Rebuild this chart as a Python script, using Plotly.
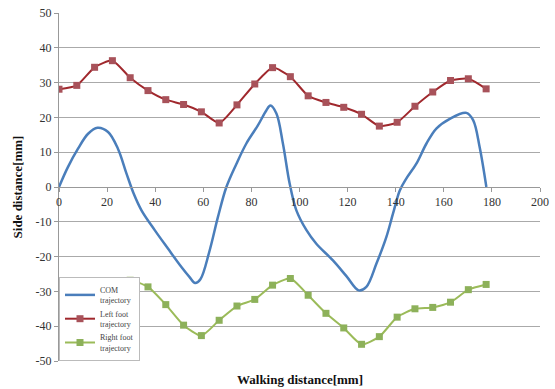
import plotly.graph_objects as go

# Walking distance [mm] sample positions for the foot trajectories
foot_x = [0, 7.4, 14.8, 22.2, 29.6, 37.0, 44.4, 51.8, 59.2, 66.6, 74.0, 81.4,
          88.8, 96.2, 103.6, 111.0, 118.4, 125.8, 133.2, 140.6, 148.0, 155.4,
          162.8, 170.2, 177.6]
left_foot = [28.1, 29.2, 34.4, 36.3, 31.4, 27.7, 25.1, 23.7, 21.6, 18.4, 23.6, 29.6,
             34.3, 31.7, 26.2, 24.3, 22.9, 20.9, 17.5, 18.6, 23.2, 27.3, 30.6, 31.1, 28.2]
right_foot = [-28.0, -28.5, -28.5, -28.0, -26.8, -28.7, -33.8, -39.7, -42.7, -38.3,
              -34.2, -32.3, -28.2, -26.3, -31.1, -36.3, -40.5, -45.2, -43.0, -37.4,
              -35.0, -34.6, -33.1, -29.5, -28.0]

# Centre-of-mass lateral trajectory
com_x = [0, 3.7, 7.9, 12.1, 16.0, 20.4, 24.5, 28.0, 31.0, 34.3, 39.8, 45.3, 50.9,
         54.3, 56.6, 58.8, 62.5, 66.1, 69.6, 73.8, 77.9, 82.7, 86.2, 87.9, 90.4,
         93.1, 95.9, 98.7, 102.9, 107.0, 113.9, 119.5, 124.6, 127.8, 132.0, 136.1,
         138.9, 141.7, 144.4, 148.6, 152.8, 156.9, 162.5, 169.4, 172.2, 174.9, 177.7]
com_y = [0, 5.7, 11.0, 15.3, 17.0, 15.8, 11.0, 4.0, -1.8, -6.7, -12.4, -17.7, -23.0,
         -25.9, -27.6, -26.5, -18.6, -8.6, 0, 6.7, 12.5, 17.7, 22.0, 23.4, 21.1,
         12.5, 1.0, -6.7, -12.4, -16.3, -21.1, -25.6, -29.7, -28.7, -22.0, -14.4,
         -7.6, -1.0, 2.4, 6.7, 12.5, 16.8, 19.6, 21.3, 19.2, 11.5, 0]

x_ticks = [0, 20, 40, 60, 80, 100, 120, 140, 160, 180, 200]
y_ticks = [50, 40, 30, 20, 10, 0, -10, -20, -30, -40, -50]

SERIF = "Liberation Serif, Times New Roman, serif"

fig = go.Figure()
fig.add_trace(go.Scatter(
    x=com_x, y=com_y, mode="lines", name="COM<br>trajectory",
    line=dict(color="#4A7EBB", width=2.5, shape="spline", smoothing=1.0)))
fig.add_trace(go.Scatter(
    x=foot_x, y=left_foot, mode="lines+markers", name="Left foot<br>trajectory",
    line=dict(color="#A0282D", width=2, shape="spline", smoothing=0.6),
    marker=dict(symbol="square", size=7, color="#A8525A")))
fig.add_trace(go.Scatter(
    x=foot_x, y=right_foot, mode="lines+markers", name="Right foot<br>trajectory",
    line=dict(color="#9BBB59", width=2, shape="spline", smoothing=0.6),
    marker=dict(symbol="square", size=7, color="#8DB15A")))

fig.update_layout(
    width=555, height=389,
    margin=dict(l=59, r=15, t=13, b=28, autoexpand=False),
    paper_bgcolor="white", plot_bgcolor="white",
    font=dict(family=SERIF, color="#333333", size=12),
    showlegend=True,
    legend=dict(
        x=0.0, y=0.0, xanchor="left", yanchor="bottom",
        bgcolor="white", bordercolor="#BBBBBB", borderwidth=1,
        font=dict(family=SERIF, size=8, color="#444444"),
        itemwidth=30, tracegroupgap=2,
    ),
    xaxis=dict(
        range=[0, 200], tickvals=x_ticks, ticktext=[str(v) for v in x_ticks],
        anchor="free", position=0.5,
        showgrid=False, zeroline=False,
        showline=True, linecolor="#999999", linewidth=1,
        ticks="outside", ticklen=4, tickcolor="#999999",
        tickfont=dict(family=SERIF, size=12, color="#333333"),
    ),
    yaxis=dict(
        range=[-50, 50], tickvals=y_ticks, ticktext=[str(v) for v in y_ticks],
        showgrid=True, gridcolor="#AAAAAA", gridwidth=1,
        zeroline=False,
        showline=True, linecolor="#999999", linewidth=1,
        ticks="outside", ticklen=4, tickcolor="#999999",
        tickfont=dict(family=SERIF, size=12, color="#333333"),
        title=dict(text="<b>Side distance[mm]</b>", standoff=10,
                   font=dict(family=SERIF, size=13, color="#111111")),
    ),
    annotations=[dict(
        text="<b>Walking distance[mm]</b>", xref="paper", yref="paper",
        x=0.5, y=-0.026, xanchor="center", yanchor="top", showarrow=False,
        font=dict(family=SERIF, size=13, color="#111111"))],
)

fig.write_html("out.html")
